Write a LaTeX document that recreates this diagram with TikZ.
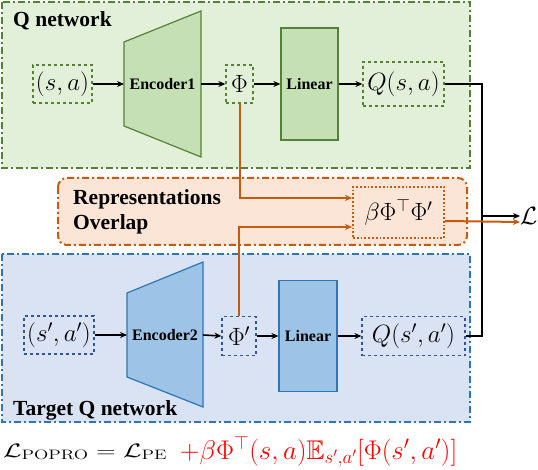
\RequirePackage{fix-cm}
\documentclass[tikz,border=0pt]{standalone}
\usepackage{amssymb}
\usepackage[no-math]{fontspec}
\setmainfont{Liberation Serif}
\usetikzlibrary{arrows.meta,calc}
\definecolor{gfill}{HTML}{E2F0D9}
\definecolor{gdark}{HTML}{548235}
\definecolor{gmid}{HTML}{C5E0B4}
\definecolor{bfill}{HTML}{DAE3F3}
\definecolor{bdark}{HTML}{2E75B6}
\definecolor{bmid}{HTML}{9DC3E6}
\definecolor{bbox}{HTML}{2F5597}
\definecolor{ofill}{HTML}{FBE5D6}
\definecolor{odark}{HTML}{C55A11}
\definecolor{fred}{HTML}{FF0000}
\tikzset{
  dashdot/.style={dash pattern=on 7pt off 3pt on 2pt off 3pt, line width=2pt},
  mathbox/.style={draw, dashed, line width=1.2pt, inner sep=0pt, font=\fontsize{25}{28}\selectfont},
  linbox/.style={draw, line width=1.2pt, inner sep=0pt, font=\fontsize{16}{18}\selectfont\bfseries},
  arr/.style={-{Stealth[length=7pt,width=6pt]}, line width=1.6pt, black},
  oarr/.style={-{Stealth[length=7pt,width=6pt]}, line width=2pt, odark},
  lab/.style={inner sep=0pt, font=\fontsize{21.5}{25}\selectfont\bfseries},
}
\begin{document}
\begin{tikzpicture}[x=1pt,y=-1pt]
\useasboundingbox (0,0) rectangle (538,470);
% containers
\draw[gdark, fill=gfill, dashdot] (2,2) rectangle (470,168);
\draw[bdark, fill=bfill, dashdot] (2,254) rectangle (470,422);
\draw[odark, fill=ofill, dashdot, rounded corners=9pt] (58,178) rectangle (467,245);
% labels
\node[lab, anchor=base west] (qlab) at (13,27) {Q network};
\node[lab, anchor=base west] (tlab) at (13,415) {Target Q network};
\node[lab, anchor=west, align=left] (rlab) at (73,212) {Representations\\Overlap};
% encoders
\draw[gdark, fill=gmid, line width=1.2pt] (124,42) -- (201,11) -- (201,157) -- (124,126) -- cycle;
\node[font=\fontsize{16}{18}\selectfont\bfseries, inner sep=0pt] (enc1) at (162.5,84) {Encoder1};
\draw[bdark, fill=bmid, line width=1.2pt] (127,293) -- (203,262) -- (203,407) -- (127,377) -- cycle;
\node[font=\fontsize{16}{18}\selectfont\bfseries, inner sep=0pt] (enc2) at (165,335) {Encoder2};
\coordinate (e1in) at (124,84);
\coordinate (e1out) at (201,84);
\coordinate (e2in) at (127,335);
\coordinate (e2out) at (203,335);
% top row
\node[mathbox, gdark, minimum width=59pt, minimum height=38pt, text=black] (sa) at (62.5,84) {$(s,a)$};
\node[mathbox, gdark, minimum width=27pt, minimum height=38pt, text=black] (phi) at (239.5,84) {$\Phi$};
\node[linbox, gdark, fill=gmid, minimum width=57pt, minimum height=112pt, text=black] (lin1) at (309.5,84) {Linear};
\node[mathbox, gdark, minimum width=81pt, minimum height=44pt, text=black] (q1) at (403.5,84) {$Q(s,a)$};
% bottom row
\node[mathbox, bbox, minimum width=70pt, minimum height=38pt, text=black] (sa2) at (59,335) {$(s',a')$};
\node[mathbox, bbox, minimum width=34pt, minimum height=39pt, text=black] (phi2) at (239,336) {$\Phi'$};
\node[linbox, bdark, fill=bmid, minimum width=58pt, minimum height=111pt, text=black] (lin2) at (308,336) {Linear};
\node[mathbox, bbox, minimum width=103pt, minimum height=39pt, text=black] (q2) at (413.5,336) {$Q(s',a')$};
% overlap box
\node[draw=odark, dotted, line width=1.8pt, minimum width=91pt, minimum height=51pt, inner sep=0pt, font=\fontsize{25}{28}\selectfont] (beta) at (398.5,212.5) {$\beta\Phi^\top\Phi'$};
% L
\node[inner sep=0pt, anchor=west, font=\fontsize{25}{28}\selectfont] (L) at (520,216) {$\mathcal{L}$};
% arrows
\draw[arr] (sa.east) -- (e1in);
\draw[arr] (e1out) -- (phi.west);
\draw[arr] (phi.east) -- (lin1.west);
\draw[arr] (lin1.east) -- (q1.west);
\draw[arr] (sa2.east) -- (e2in);
\draw[arr] (e2out) -- (phi2.west);
\draw[arr] (phi2.east) -- (lin2.west);
\draw[arr] (lin2.east) -- (q2.west);
\coordinate (jx) at (482,216);
\draw[line width=1.6pt] (q1.east) -| (jx) |- (q2.east);
\draw[arr] (jx) -- (L.west);
\draw[oarr] (phi.south) |- ([yshift=14.5pt]beta.west);
\draw[oarr] (phi2.north) |- ([yshift=-14.5pt]beta.west);
\draw[oarr] ([yshift=-8.5pt]beta.east) -- ([yshift=-6pt]L.west);
% formula
\node[inner sep=0pt, anchor=base west, font=\fontsize{19.5}{22}\selectfont] (form) at (3,457)
  {\resizebox{164pt}{\height}{$\mathcal{L}_{\mathrm{POPRO}}=\mathcal{L}_{\mathrm{PE}}$}};
\node[inner sep=0pt, anchor=base west, font=\fontsize{27}{30}\selectfont, text=fred] (formred) at (180,459)
  {$+\beta\Phi^{\top}(s,a)\mathbb{E}_{s',a'}\big[\Phi(s',a')\big]$};
\end{tikzpicture}
\end{document}
